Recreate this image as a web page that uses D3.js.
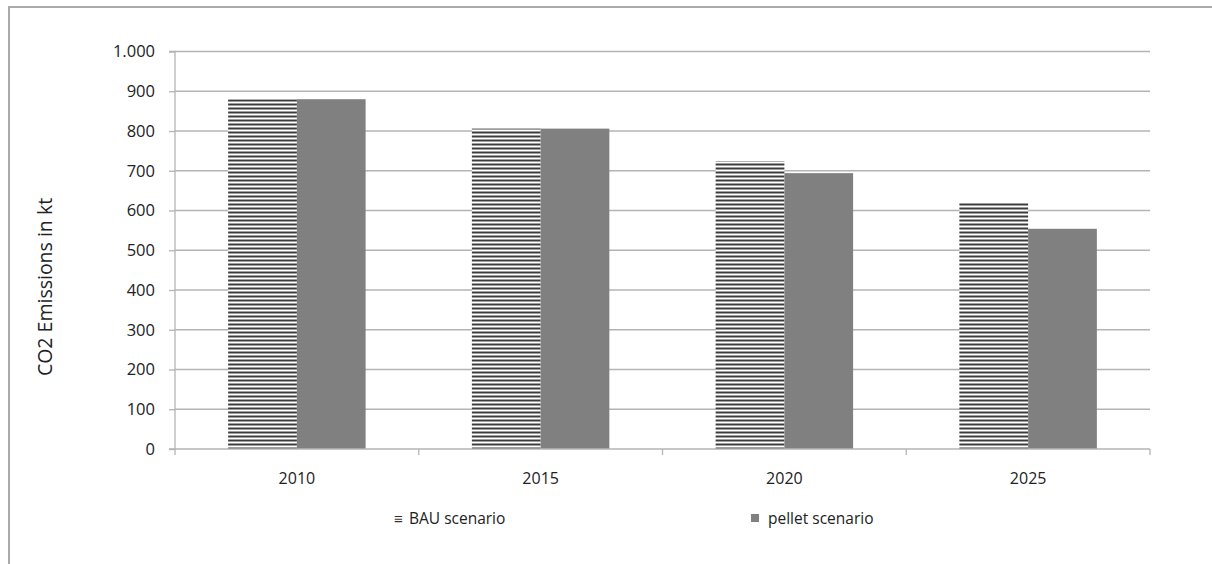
<!DOCTYPE html>
<html>
<head>
<meta charset="utf-8">
<script src="https://cdn.jsdelivr.net/npm/d3@7"></script>
<style>
  body { margin: 0; background: #fff; }
  svg { display: block; }
</style>
</head>
<body>
<div id="chart"></div>
<script>
// chart data
var years = ["2010", "2015", "2020", "2025"];
var seriesNames = ["BAU scenario", "pellet scenario"];
var bauValues = [880, 806, 724, 620];
var pelletValues = [880, 806, 694, 554];
var yTicks = [0, 100, 200, 300, 400, 500, 600, 700, 800, 900, 1000];
var yTickLabels = ["0", "100", "200", "300", "400", "500", "600", "700", "800", "900", "1.000"];

var svgWidth = 1212;
var svgHeight = 564;

var margin = { top: 51.5, left: 175, right: 62, bottom: 115 };
var width = svgWidth - margin.left - margin.right;
var height = svgHeight - margin.top - margin.bottom;

var font = "'Open Sans', sans-serif";

var svg = d3.select("#chart")
  .append("svg")
  .attr("width", svgWidth)
  .attr("height", svgHeight);

// horizontal line pattern for the BAU bars
var defs = svg.append("defs");
var pat = defs.append("pattern")
  .attr("id", "hlines")
  .attr("patternUnits", "userSpaceOnUse")
  .attr("width", 8)
  .attr("height", 4);
pat.append("rect").attr("width", 8).attr("height", 4).attr("fill", "#fff");
pat.append("rect").attr("y", 0).attr("width", 8).attr("height", 2).attr("fill", "#3c3c3c");

// outer frame
svg.append("path")
  .attr("d", "M9,570 V7 H1220")
  .attr("fill", "none")
  .attr("stroke", "#aaa")
  .attr("stroke-width", 2);

var chartGroup = svg.append("g")
  .attr("transform", `translate(${margin.left}, ${margin.top})`);

var x0 = d3.scaleBand()
  .domain(years)
  .range([0, width])
  .paddingInner(0.436)
  .paddingOuter(0.218);

var x1 = d3.scaleBand()
  .domain(seriesNames)
  .range([0, x0.bandwidth()]);

var y = d3.scaleLinear()
  .domain([0, 1000])
  .range([height, 0]);

// gridlines
chartGroup.append("g")
  .selectAll("line")
  .data(yTicks.slice(1))
  .enter()
  .append("line")
  .attr("x1", 0)
  .attr("x2", width)
  .attr("y1", d => y(d))
  .attr("y2", d => y(d))
  .attr("stroke", "#b4b4b4")
  .attr("stroke-width", 1.3);

// bars
var rows = years.map(function(yr, i) {
  return { year: yr, values: [bauValues[i], pelletValues[i]] };
});

var groups = chartGroup.selectAll(".grp")
  .data(rows)
  .enter()
  .append("g")
  .attr("transform", d => `translate(${x0(d.year)}, 0)`);

groups.selectAll("rect")
  .data(d => d.values.map((v, j) => ({ name: seriesNames[j], value: v })))
  .enter()
  .append("rect")
  .attr("x", d => x1(d.name))
  .attr("y", d => y(d.value))
  .attr("width", x1.bandwidth())
  .attr("height", d => height - y(d.value))
  .attr("fill", d => d.name === "BAU scenario" ? "url(#hlines)" : "#808080");

// y axis
var yAxis = d3.axisLeft(y)
  .tickValues(yTicks)
  .tickSize(6)
  .tickFormat((d, i) => yTickLabels[i]);

var yAxisG = chartGroup.append("g").call(yAxis);
yAxisG.select(".domain").attr("stroke", "#b4b4b4").attr("stroke-width", 1.3).attr("d", `M-6,${height}H0V0H-6`);
yAxisG.selectAll(".tick line").attr("stroke", "#b4b4b4").attr("stroke-width", 1.3);
yAxisG.selectAll(".tick text")
  .attr("x", -20)
  .attr("fill", "#222")
  .style("font-family", font)
  .style("font-size", "16.5px");

// x axis
var xAxisG = chartGroup.append("g")
  .attr("transform", `translate(0, ${height})`);
xAxisG.append("line")
  .attr("x1", 0).attr("x2", width)
  .attr("stroke", "#b4b4b4").attr("stroke-width", 1.3);
xAxisG.selectAll(".xt")
  .data(d3.range(years.length + 1))
  .enter()
  .append("line")
  .attr("x1", i => i * x0.step())
  .attr("x2", i => i * x0.step())
  .attr("y1", 0).attr("y2", 6)
  .attr("stroke", "#b4b4b4").attr("stroke-width", 1.3);
xAxisG.selectAll(".xl")
  .data(years)
  .enter()
  .append("text")
  .attr("x", d => x0(d) + x0.bandwidth() / 2)
  .attr("y", 35)
  .attr("text-anchor", "middle")
  .attr("fill", "#222")
  .style("font-family", font)
  .style("font-size", "16px")
  .text(d => d);

// y axis title
svg.append("text")
  .attr("transform", "translate(52, 287) rotate(-90)")
  .attr("text-anchor", "middle")
  .attr("fill", "#222")
  .style("font-family", font)
  .style("font-size", "19.5px")
  .text("CO2 Emissions in kt");

// legend
var legend = svg.append("g");
var lg1 = legend.append("g").attr("transform", "translate(394, 524)");
lg1.append("text")
  .attr("x", 0).attr("y", 0)
  .attr("fill", "#333")
  .style("font-family", font)
  .style("font-size", "15px")
  .text("\u2261");
lg1.append("text")
  .attr("x", 15).attr("y", 0)
  .attr("fill", "#222")
  .style("font-family", font)
  .style("font-size", "15.5px")
  .text(seriesNames[0]);

var lg2 = legend.append("g").attr("transform", "translate(751, 524)");
lg2.append("rect")
  .attr("x", 0).attr("y", -10)
  .attr("width", 8).attr("height", 8)
  .attr("fill", "#808080");
lg2.append("text")
  .attr("x", 17).attr("y", 0)
  .attr("fill", "#222")
  .style("font-family", font)
  .style("font-size", "15.5px")
  .text(seriesNames[1]);
</script>
</body>
</html>
